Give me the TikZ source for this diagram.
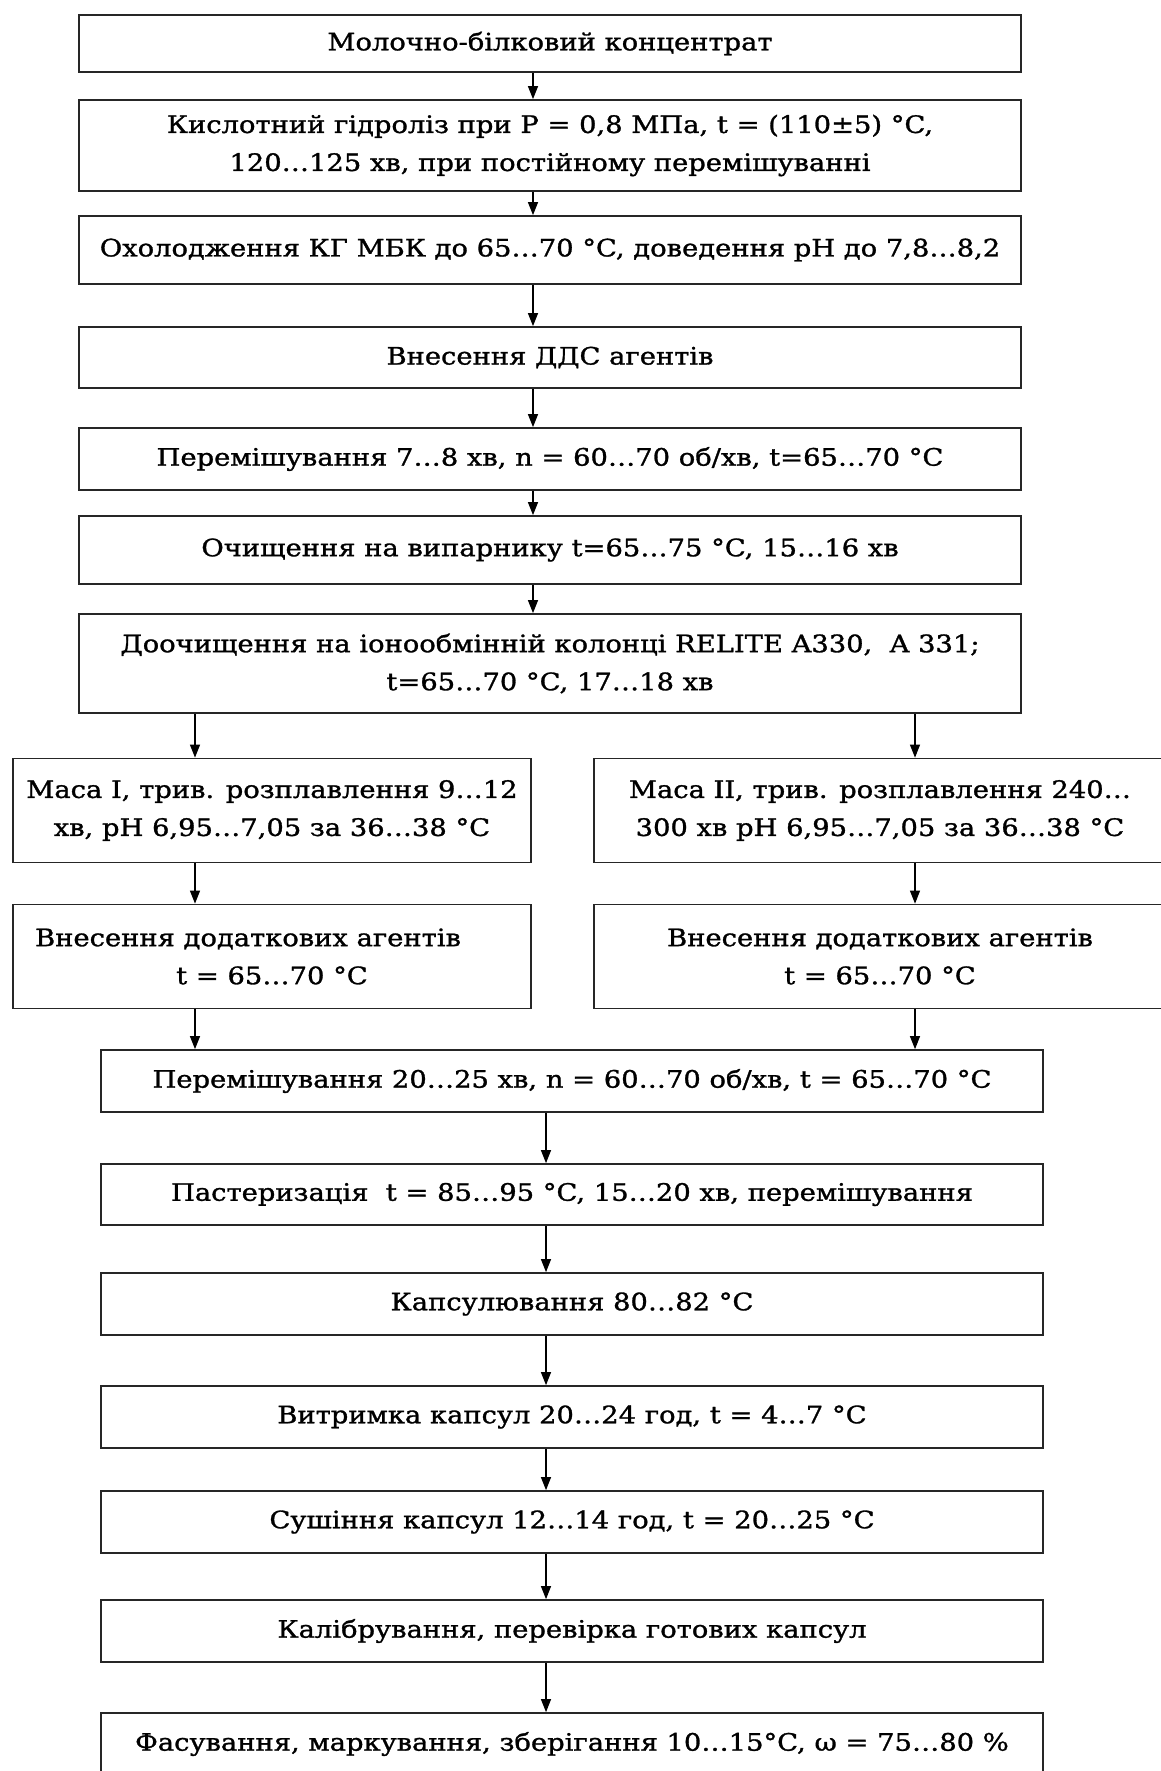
\documentclass[tikz,border=0pt]{standalone}
\usepackage{fontspec}
\setmainfont{DejaVu Serif}[FakeStretch=1.14, FakeBold=1.2]
\usepackage{tikz}
\usetikzlibrary{arrows.meta, positioning}

\begin{document}
\begin{tikzpicture}[
    x=1pt, y=-1pt,
    every node/.style={font=\fontsize{24}{38}\selectfont},
    stage/.style={rectangle, draw=black!85, line width=1.7pt, fill=white, align=center, inner sep=2pt, minimum width=942pt},
    half/.style={stage, minimum width=518pt, minimum height=104pt},
    flow/.style={-{Triangle[length=13pt, width=10pt]}, line width=1.2pt, black}
]
\useasboundingbox (0,0) rectangle (1160,1771);

% Columns for the arrows
\coordinate (up) at (533,0);
\coordinate (lo) at (546,0);
\coordinate (lf) at (195,0);
\coordinate (rt) at (915,0);

% Upper chain
\node[stage, minimum height=57pt] (b1) at (550,43.5) {Молочно-білковий концентрат};
\node[stage, minimum height=91pt] (b2) at (550,145.5) {Кислотний гідроліз при Р = 0,8 МПа, t = (110±5) °C,\\120…125 хв, при постійному перемішуванні};
\node[stage, minimum height=68pt] (b3) at (550,250) {Охолодження КГ МБК до 65…70 °C, доведення рН до 7,8…8,2};
\node[stage, minimum height=61pt] (b4) at (550,357.5) {Внесення ДДС агентів};
\node[stage, minimum height=62pt] (b5) at (550,459) {Перемішування 7…8 хв, n = 60…70 об/хв, t=65…70 °C};
\node[stage, minimum height=68pt] (b6) at (550,550) {Очищення на випарнику t=65…75 °C, 15…16 хв};
\node[stage, minimum height=99pt] (b7) at (550,663.5) {Доочищення на іонообмінній колонці RELITE A330,~ A 331;\\t=65…70 °C, 17…18 хв};

% Two branches
\node[half] (m1) at (272,810.5) {Маса I, трив. розплавлення 9…12\\хв, рН 6,95…7,05 за 36…38 °C};
\node[half, minimum width=572pt] (m2) at (880,810.5) {Маса II, трив. розплавлення 240…\\300 хв рН 6,95…7,05 за 36…38 °C};
\node[half] (a1) at (272,956.5) {Внесення додаткових агентів\hspace*{48pt}\\t = 65…70 °C};
\node[half, minimum width=572pt] (a2) at (880,956.5) {Внесення додаткових агентів\\t = 65…70 °C};

% Lower chain
\node[stage, minimum height=62pt] (b10) at (572,1081) {Перемішування 20…25 хв, n = 60…70 об/хв, t = 65…70 °C};
\node[stage, minimum height=61pt] (b11) at (572,1194.5) {Пастеризація~ t = 85…95 °C, 15…20 хв, перемішування};
\node[stage, minimum height=62pt] (b12) at (572,1304) {Капсулювання 80…82 °C};
\node[stage, minimum height=62pt] (b13) at (572,1417) {Витримка капсул 20…24 год, t = 4…7 °C};
\node[stage, minimum height=62pt] (b14) at (572,1522) {Сушіння капсул 12…14 год, t = 20…25 °C};
\node[stage, minimum height=62pt] (b15) at (572,1631) {Калібрування, перевірка готових капсул};
\node[stage, minimum height=62pt] (b16) at (572,1744) {Фасування, маркування, зберігання 10…15°C, ω = 75…80 \%};

% Flows
\draw[flow] (b1.south -| up) -- (b2.north -| up);
\draw[flow] (b2.south -| up) -- (b3.north -| up);
\draw[flow] (b3.south -| up) -- (b4.north -| up);
\draw[flow] (b4.south -| up) -- (b5.north -| up);
\draw[flow] (b5.south -| up) -- (b6.north -| up);
\draw[flow] (b6.south -| up) -- (b7.north -| up);
\draw[flow] (b7.south -| lf) -- (m1.north -| lf);
\draw[flow] (b7.south -| rt) -- (m2.north -| rt);
\draw[flow] (m1.south -| lf) -- (a1.north -| lf);
\draw[flow] (m2.south -| rt) -- (a2.north -| rt);
\draw[flow] (a1.south -| lf) -- (b10.north -| lf);
\draw[flow] (a2.south -| rt) -- (b10.north -| rt);
\draw[flow] (b10.south -| lo) -- (b11.north -| lo);
\draw[flow] (b11.south -| lo) -- (b12.north -| lo);
\draw[flow] (b12.south -| lo) -- (b13.north -| lo);
\draw[flow] (b13.south -| lo) -- (b14.north -| lo);
\draw[flow] (b14.south -| lo) -- (b15.north -| lo);
\draw[flow] (b15.south -| lo) -- (b16.north -| lo);
\end{tikzpicture}
\end{document}
